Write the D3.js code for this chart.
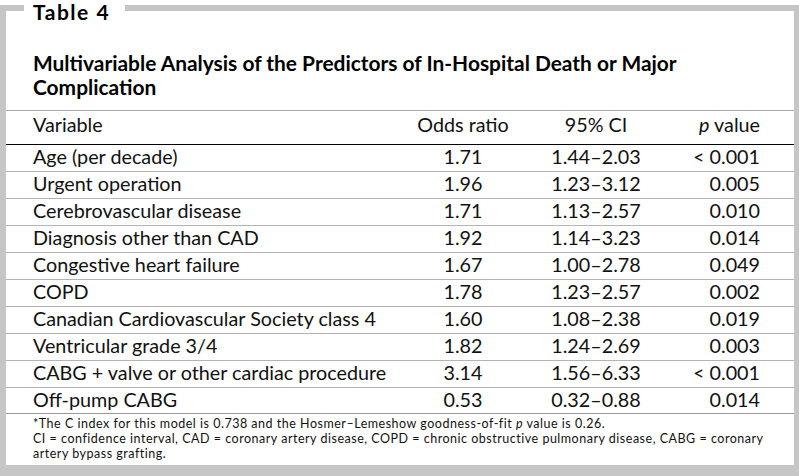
<!DOCTYPE html>
<html><head><meta charset="utf-8">
<script src="https://cdn.jsdelivr.net/npm/d3@7"></script>
<style>html,body{margin:0;padding:0;background:#fff;}svg{display:block;}</style>
</head><body><svg id="c" width="799" height="476"></svg>
<script>
const tableLabel = "Table 4";
const titleLines = ["Multivariable Analysis of the Predictors of In-Hospital Death or Major", "Complication"];
const headers = ["Variable", "Odds ratio", "95% CI", "value"];
const variables = ["Age (per decade)", "Urgent operation", "Cerebrovascular disease", "Diagnosis other than CAD",
  "Congestive heart failure", "COPD", "Canadian Cardiovascular Society class 4", "Ventricular grade 3/4",
  "CABG + valve or other cardiac procedure", "Off-pump CABG"];
const oddsRatios = [1.71, 1.96, 1.71, 1.92, 1.67, 1.78, 1.60, 1.82, 3.14, 0.53];
const ciLow = [1.44, 1.23, 1.13, 1.14, 1.00, 1.23, 1.08, 1.24, 1.56, 0.32];
const ciHigh = [2.03, 3.12, 2.57, 3.23, 2.78, 2.57, 2.38, 2.69, 6.33, 0.88];
const pValues = ["< 0.001", "0.005", "0.010", "0.014", "0.049", "0.002", "0.019", "0.003", "< 0.001", "0.014"];
const footnotes = [
  ["*The C index for this model is 0.738 and the Hosmer–Lemeshow goodness-of-fit ", "p", " value is 0.26."],
  ["CI = confidence interval, CAD = coronary artery disease, COPD = chronic obstructive pulmonary disease, CABG = coronary"],
  ["artery bypass grafting."]
];

function draw(){
  const svg = d3.select("#c");
  const W = 799, H = 476;
  const FONT = "Lato, 'Noto Sans', sans-serif";
  const gray = "#c6c6c6";
  svg.append("rect").attr("x",0).attr("y",5).attr("width",W).attr("height",H-5).attr("fill",gray);
  svg.append("rect").attr("x",6).attr("y",11).attr("width",788).attr("height",454).attr("fill","#fff");
  svg.append("rect").attr("x",24).attr("y",0).attr("width",101).attr("height",11).attr("fill","#fff");

  function fit(sel, target){
    const w = sel.node().getComputedTextLength();
    const fs = parseFloat(sel.attr("font-size"));
    return fs * target / w;
  }

  const lbl = svg.append("text").attr("x",33).attr("y",20).attr("font-family",FONT)
    .attr("font-weight","bold").attr("font-size",21).attr("fill","#000").text(tableLabel);
  const lw = lbl.node().getComputedTextLength();
  lbl.attr("letter-spacing", Math.max(0, Math.min(1.5, (83 - lw) / (tableLabel.length - 1))));

  const t1 = svg.append("text").attr("x",33).attr("y",71).attr("font-family",FONT)
    .attr("font-weight","bold").attr("font-size",18).attr("fill","#000").text(titleLines[0]);
  const titleSize = fit(t1, 644);
  t1.attr("font-size", titleSize);
  svg.append("text").attr("x",33).attr("y",95).attr("font-family",FONT)
    .attr("font-weight","bold").attr("font-size",titleSize).attr("fill","#000").text(titleLines[1]);

  const probe = svg.append("text").attr("font-family",FONT).attr("font-size",16).text(variables[6]);
  const bodySize = fit(probe, 343);
  probe.remove();

  const rowH = 27;
  const y = d3.scaleLinear().domain([0,1]).range([144, 144+rowH]);
  const xVar = 33, xOdds = 463, xCI = 596, xP = 760;

  svg.append("line").attr("x1",6).attr("x2",794).attr("y1",110.5).attr("y2",110.5).attr("stroke","#a8a8a8").attr("stroke-width",1.2);
  svg.append("line").attr("x1",6).attr("x2",794).attr("y1",144.5).attr("y2",144.5).attr("stroke","#000").attr("stroke-width",1.2);
  svg.selectAll("line.sep").data(d3.range(1,variables.length)).enter().append("line").attr("class","sep")
    .attr("x1",6).attr("x2",794).attr("y1",d=>y(d)+0.5).attr("y2",d=>y(d)+0.5)
    .attr("stroke","#b4b4b4").attr("stroke-width",1);
  svg.append("line").attr("x1",6).attr("x2",794).attr("y1",y(variables.length)-0.5).attr("y2",y(variables.length)-0.5)
    .attr("stroke","#999").attr("stroke-width",1.2);

  const txtCol = "#111";
  const hY = 132;
  svg.append("text").attr("x",xVar).attr("y",hY).attr("font-family",FONT).attr("font-size",bodySize).attr("fill",txtCol).text(headers[0]);
  svg.append("text").attr("x",xOdds).attr("y",hY).attr("text-anchor","middle").attr("font-family",FONT).attr("font-size",bodySize).attr("fill",txtCol).text(headers[1]);
  svg.append("text").attr("x",xCI).attr("y",hY).attr("text-anchor","middle").attr("font-family",FONT).attr("font-size",bodySize).attr("fill",txtCol).text(headers[2]);
  const ph = svg.append("text").attr("x",xP).attr("y",hY).attr("text-anchor","end").attr("font-family",FONT).attr("font-size",bodySize).attr("fill",txtCol);
  ph.append("tspan").attr("font-style","italic").text("p ");
  ph.append("tspan").text(headers[3]);

  const rows = svg.selectAll("g.row").data(variables.map((v,i)=>({v, o:oddsRatios[i], lo:ciLow[i], hi:ciHigh[i], p:pValues[i], i})))
    .enter().append("g").attr("class","row")
    .attr("transform", d=>`translate(0,${y(d.i)+19.5})`)
    .attr("font-family",FONT).attr("font-size",bodySize).attr("fill",txtCol);
  const f2 = d3.format(".2f");
  rows.append("text").attr("x",xVar).text(d=>d.v);
  rows.append("text").attr("x",xOdds).attr("text-anchor","middle").text(d=>f2(d.o));
  rows.append("text").attr("x",xCI).attr("text-anchor","middle").text(d=>f2(d.lo)+"–"+f2(d.hi));
  rows.append("text").attr("x",xP).attr("text-anchor","end").text(d=>d.p);

  const fnSize = 12.5;
  const fnY = [428, 443, 458];
  const fnTexts = footnotes.map((parts, k)=>{
    const t = svg.append("text").attr("x",33).attr("y",fnY[k]).attr("font-family",FONT).attr("font-size",fnSize).attr("fill",txtCol);
    parts.forEach((p, j)=>{
      t.append("tspan").attr("font-style", (parts.length===3 && j===1) ? "italic" : null).text(p);
    });
    return t;
  });
  const w2 = fnTexts[1].node().getComputedTextLength();
  const ls = Math.max(0, (730 - w2) / (footnotes[1][0].length - 1));
  fnTexts.forEach(t => t.attr("letter-spacing", ls));
}
if (document.fonts && document.fonts.ready) document.fonts.ready.then(draw); else draw();
</script>
</body></html>
